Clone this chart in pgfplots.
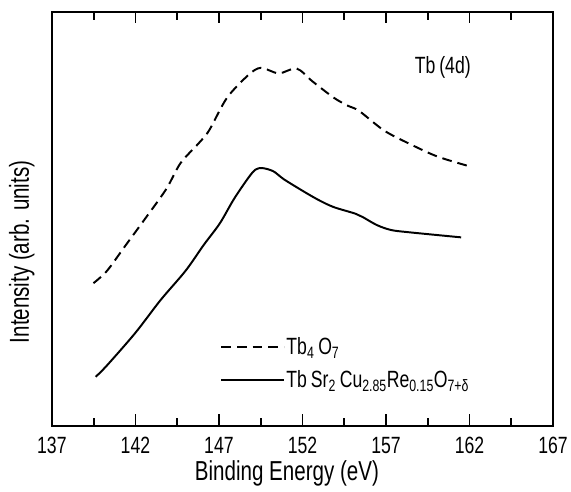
\documentclass[border=0pt]{standalone}
\usepackage{pgfplots}
\pgfplotsset{compat=1.18}
\usepackage{fontspec}
\setmainfont{Liberation Sans}[FakeStretch=0.75]
\usetikzlibrary{calc}

\pgfplotstableread{
x y
139.49 145.7
140.30 158.3
141.37 183.3
142.60 212.0
143.84 241.7
144.70 268.3
145.77 288.3
146.41 301.7
147.48 335.0
148.76 358.3
149.51 365.7
150.58 360.0
151.65 365.0
152.61 351.7
153.89 335.0
154.75 326.7
155.39 321.7
156.88 301.7
158.38 288.3
160.09 275.0
162.02 265.0
}\tboxide

\pgfplotstableread{
x y
139.62 50.0
140.30 61.7
142.00 95.0
143.50 128.3
145.00 158.3
146.10 185.0
147.05 206.7
147.90 231.7
148.76 253.3
149.19 261.7
149.60 263.3
150.26 260.0
150.90 251.7
152.18 238.3
153.04 230.0
153.89 223.3
155.17 216.7
155.60 213.3
156.46 205.0
157.31 200.0
158.38 197.7
161.50 192.5
}\tbsr

\begin{document}
\begin{tikzpicture}
\begin{axis}[
    scale only axis,
    width=512pt, height=423pt,
    xmin=137, xmax=167,
    ymin=0, ymax=423,
    xtick={137,142,...,167},
    major tick length=12pt,
    xtick style={line width=1.6pt, color=black},
    axis line style={line width=2pt, black},
    ytick=\empty,
    /pgf/number format/assume math mode=true,
    /pgf/number format/set thousands separator={},
    xticklabel style={font=\fontsize{24}{28}\selectfont, anchor=center, yshift=-20pt},
    xlabel={Binding Energy (eV)},
    ylabel={Intensity (arb. units)},
    every axis x label/.style={at={(axis description cs:0.469,-0.116)}, anchor=center,
        font=\fontsize{28}{32}\selectfont},
    every axis y label/.style={at={(axis description cs:-0.06,0.42)}, anchor=center, rotate=90,
        font=\fontsize{28}{32}\selectfont},
    legend style={draw=none, fill=none, at={(axis cs:146.9,63.5)}, anchor=west,
        font=\fontsize{24}{28}\selectfont, row sep=12pt,
        nodes={inner sep=1.5pt}},
    legend cell align=left,
    legend image code/.code={\draw[#1] (0pt,0pt) -- (64pt,0pt);},
]
\addplot[black, line width=2pt, smooth, dash pattern=on 10pt off 6pt] table {\tboxide};
\addlegendentry{Tb\textsubscript{4}\,O\textsubscript{7}}
\addplot[black, line width=2pt, smooth] table {\tbsr};
\addlegendentry{Tb\,Sr\textsubscript{2}\,Cu\textsubscript{2.85}Re\textsubscript{0.15}O\textsubscript{7+δ}}
\node[font=\fontsize{24}{28}\selectfont] at (axis cs:160.4,366) {Tb\,(4d)};
\end{axis}
% frame and inward ticks, top and bottom (every 2.5 eV, long ones every 5 eV)
\draw[line width=2pt] (current axis.south west) rectangle (current axis.north east);
\foreach \f in {0.16667,0.33333,0.5,0.66667,0.83333} {
  \draw[line width=1.8pt] ($(current axis.south west)!\f!(current axis.south east)$) -- ++(0pt,12pt);
  \draw[line width=1.8pt] ($(current axis.north west)!\f!(current axis.north east)$) -- ++(0pt,-12pt);
}
\foreach \f in {0.08333,0.25,0.41667,0.58333,0.75,0.91667} {
  \draw[line width=1.8pt] ($(current axis.south west)!\f!(current axis.south east)$) -- ++(0pt,8pt);
  \draw[line width=1.8pt] ($(current axis.north west)!\f!(current axis.north east)$) -- ++(0pt,-8pt);
}
\path ($(current axis.south west)+(-53pt,-67pt)$) rectangle ($(current axis.north east)+(6pt,12pt)$);
\end{tikzpicture}
\end{document}
